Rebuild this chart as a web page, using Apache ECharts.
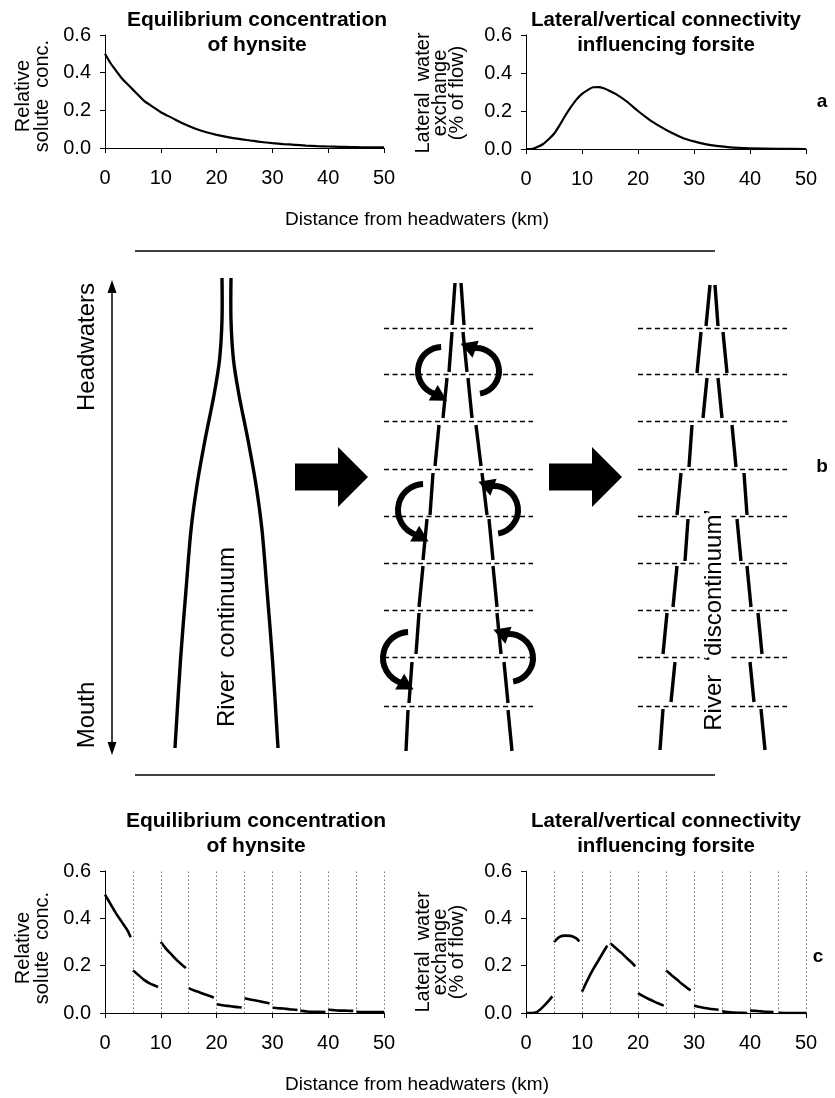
<!DOCTYPE html>
<html><head><meta charset="utf-8">
<script src="https://cdn.jsdelivr.net/npm/echarts@6/dist/echarts.min.js"></script>
<style>html,body{margin:0;padding:0;background:#fff}#c{width:835px;height:1098px}</style>
</head><body><div id="c"></div>
<script>
// ---------- data ----------
const hynsiteX = [0,1,2,3,4,5,6,7,8,9,10,12,14,16,18,20,22,24,26,28,30,32,34,36,38,40,42,44,46,48,50];
const hynsiteY = [0.50,0.45,0.41,0.37,0.34,0.31,0.28,0.25,0.23,0.21,0.19,0.16,0.13,0.105,0.085,0.07,0.058,0.048,0.04,0.032,0.026,0.021,0.017,0.013,0.01,0.008,0.006,0.005,0.004,0.003,0.003];
const forsiteX = [0,1,2,3,4,5,6,7,8,9,10,11,12,13,14,15,16,18,20,22,24,26,28,30,32,34,36,38,40,45,50];
const forsiteY = [0,0,0.01,0.025,0.05,0.08,0.125,0.175,0.22,0.26,0.29,0.31,0.325,0.326,0.318,0.305,0.29,0.25,0.2,0.155,0.118,0.085,0.058,0.04,0.026,0.016,0.01,0.006,0.004,0.001,0];
// discontinuum segments: [x, y] per 5-km reach
const hynsiteSegments = [
  [[0,0.50],[1,0.46],[2,0.42],[3,0.385],[4,0.35],[4.6,0.32]],
  [[5,0.18],[6,0.16],[7,0.14],[8,0.125],[9,0.115],[9.5,0.11]],
  [[10,0.30],[11,0.27],[12,0.245],[13,0.22],[14,0.2],[14.5,0.19]],
  [[15,0.105],[16,0.095],[17,0.087],[18,0.078],[19,0.07],[19.5,0.065]],
  [[20,0.037],[21,0.033],[22,0.03],[23,0.027],[24,0.024],[24.5,0.023]],
  [[25,0.062],[26,0.057],[27,0.053],[28,0.048],[29,0.043],[29.5,0.04]],
  [[30,0.022],[31,0.02],[32,0.019],[33,0.016],[34,0.014],[34.5,0.013]],
  [[35,0.01],[36,0.007],[37,0.005],[38,0.005],[39.5,0.004]],
  [[40,0.015],[41,0.012],[42,0.01],[43,0.01],[44,0.009],[44.5,0.009]],
  [[45,0.005],[46,0.004],[48,0.004],[50,0.004]]
];
const forsiteSegments = [
  [[0,0],[1,0],[2,0.005],[3,0.025],[4,0.05],[4.7,0.07]],
  [[5,0.30],[6,0.322],[7,0.327],[8,0.326],[9,0.315],[9.5,0.302]],
  [[10,0.09],[11,0.14],[12,0.185],[13,0.225],[14,0.265],[14.5,0.285]],
  [[15,0.295],[16,0.275],[17,0.255],[18,0.232],[19,0.21],[19.5,0.197]],
  [[20,0.084],[21,0.07],[22,0.058],[23,0.047],[24,0.037],[24.6,0.031]],
  [[25,0.18],[26,0.16],[27,0.14],[28,0.12],[29,0.102],[29.4,0.096]],
  [[30,0.032],[31,0.025],[32,0.021],[33,0.017],[34.4,0.014]],
  [[35,0.007],[36,0.004],[37,0.002],[38,0.001],[39.5,0]],
  [[40,0.01],[41,0.009],[42,0.007],[43,0.005],[44.2,0.004]],
  [[45,0.001],[47,0],[50,0]]
];
const breakpoints = [5,10,15,20,25,30,35,40,45,50];
const xTicks = [0,10,20,30,40,50];
const yTicks = [0,0.2,0.4,0.6];
const xTitle = 'Distance from headwaters (km)';
const leftTitle = 'Equilibrium concentration\nof hynsite';
const rightTitle = 'Lateral/vertical connectivity\ninfluencing forsite';
const leftYName = 'Relative\nsolute  conc.';
const rightYName = 'Lateral  water\nexchange\n(% of flow)';

// ---------- layout ----------
const FONT = '"Liberation Sans", Arial, sans-serif';
const grids = [
  {left:105, top:35, width:279, height:113},
  {left:526, top:35, width:280, height:114},
  {left:105, top:871, width:279, height:142},
  {left:526, top:871, width:280, height:142}
];
const zip = (xs, ys) => xs.map((x,i)=>[x, ys[i]]);

function xAxis(i){
  return {type:'value', gridIndex:i, min:xTicks[0], max:xTicks[xTicks.length-1], interval:xTicks[1]-xTicks[0],
    axisLine:{show:true, onZero:false, lineStyle:{color:'#000', width:1}},
    axisTick:{show:true, length:5, lineStyle:{color:'#000'}},
    splitLine:{show:false},
    axisLabel:{color:'#000', fontSize:20, fontFamily:FONT, margin:20}};
}
function yAxis(i){
  return {type:'value', gridIndex:i, min:yTicks[0], max:yTicks[yTicks.length-1], interval:yTicks[1]-yTicks[0],
    axisLine:{show:true, lineStyle:{color:'#000', width:1}},
    axisTick:{show:true, length:5, lineStyle:{color:'#000'}},
    splitLine:{show:false},
    axisLabel:{color:'#000', fontSize:20, fontFamily:FONT, margin:14, formatter:v=>v.toFixed(1)}};
}
const lineStyleTop = {color:'#000', width:2.2};
const lineStyleSeg = {color:'#000', width:2.6};
const dotted = {silent:true, symbol:['none','none'], label:{show:false},
  lineStyle:{type:[1.5,2.5], color:'#777', width:1},
  data: breakpoints.map(v=>({xAxis:v}))};

const series = [
  {type:'line', xAxisIndex:0, yAxisIndex:0, data:zip(hynsiteX,hynsiteY), showSymbol:false, smooth:0.3, lineStyle:lineStyleTop},
  {type:'line', xAxisIndex:1, yAxisIndex:1, data:zip(forsiteX,forsiteY), showSymbol:false, smooth:0.3, lineStyle:lineStyleTop}
];
hynsiteSegments.forEach((seg,k)=>{
  const s = {type:'line', xAxisIndex:2, yAxisIndex:2, data:seg, showSymbol:false, smooth:0.3, lineStyle:lineStyleSeg, z:3};
  if(k===0) s.markLine = dotted;
  series.push(s);
});
forsiteSegments.forEach((seg,k)=>{
  const s = {type:'line', xAxisIndex:3, yAxisIndex:3, data:seg, showSymbol:false, smooth:0.3, lineStyle:lineStyleSeg, z:3};
  if(k===0) s.markLine = dotted;
  series.push(s);
});

// ---------- diagram (panel b) and texts ----------
const G = [];
const K = '#000';
function line(x1,y1,x2,y2,w,dash){ G.push({type:'line', shape:{x1,y1,x2,y2}, style:{stroke:K, lineWidth:w, lineDash:dash||null}, silent:true}); }
function text(x,y,t,size,opt){
  opt = opt||{};
  const el = {type:'text', x, y, silent:true, style:{text:t, fill:K, font:(opt.bold?'bold ':'')+size+'px '+FONT, textAlign:'center', textVerticalAlign:'middle', lineHeight:opt.lh||Math.round(size*1.2), backgroundColor:opt.bg||null, padding:opt.pad||0}};
  if(opt.rot) el.rotation = opt.rot;
  G.push(el);
}
function poly(points){ G.push({type:'polygon', shape:{points}, style:{fill:K}, silent:true}); }

// separators
line(135,251,715,251,1.5);
line(135,775,715,775,1.5);
// headwaters/mouth double arrow
line(112,290,112,745,1.5);
poly([[112,280],[107.5,293],[116.5,293]]);
poly([[112,755],[107.5,742],[116.5,742]]);
text(87,347,'Headwaters',24,{rot:Math.PI/2});
text(87,715,'Mouth',24,{rot:Math.PI/2});
// river continuum banks
G.push({type:'polyline', shape:{points:[[222,278],[222,320],[219.5,360],[214,395],[205,440],[197,485],[191,530],[186,590],[180.5,660],[175,748]], smooth:0.3}, style:{stroke:K, lineWidth:3.4, fill:null}, silent:true});
G.push({type:'polyline', shape:{points:[[231,278],[231,320],[233.5,360],[239,395],[248,440],[256,485],[262,530],[267,590],[272.5,660],[278,748]], smooth:0.3}, style:{stroke:K, lineWidth:3.4, fill:null}, silent:true});
text(227,637,'River  continuum',24,{rot:Math.PI/2});
// big arrows
function bigArrow(x0, xb, xt, cy){ poly([[x0,cy-13.5],[xb,cy-13.5],[xb,cy-30],[xt,cy],[xb,cy+30],[xb,cy+13.5],[x0,cy+13.5]]); }
bigArrow(295,338,368,477);
bigArrow(549,592,622,477);
// dashed reach boundaries
const reachY = [328,374,421,469,516,563,610,657,706];
reachY.forEach(y=>{ line(384,y+0.5,533,y+0.5,1.4,[5,3.5]); line(638,y+0.5,787,y+0.5,1.4,[5,3.5]); });
// middle river banks (segments)
const midL = [[455,283,452,325],[452,332,449,372],[447,378,443,418],[439,425,435,466],[433,473,430,515],[427,519,423,560],[423,566,419,607],[419,613,416,654],[412,662,409,703],[408,710,406,751]];
const midR = [[461,283,464,325],[463,332,467,372],[468,378,472,418],[476,425,481,466],[482,473,487,515],[489,519,493,560],[493,566,497,607],[497,613,501,654],[504,662,508,703],[508,710,512,751]];
midL.concat(midR).forEach(s=>line(s[0],s[1],s[2],s[3],3.4));
// right river banks (discontinuum)
const rgtL = [[710,285,706,326],[701,332,697,373],[707,378,703,418],[692,425,689,467],[681,473,677,515],[688,519,685,561],[677,566,673,607],[667,613,663,654],[675,662,671,702],[663,709,660,750]];
const rgtR = [[715,285,718,326],[723,332,727,373],[718,378,722,418],[732,425,736,467],[744,473,747,515],[737,519,741,561],[747,566,751,607],[758,613,762,654],[750,662,754,702],[761,709,765,750]];
rgtL.concat(rgtR).forEach(s=>line(s[0],s[1],s[2],s[3],3.4));
text(714,620,'River  \u2018discontinuum\u2019',24,{rot:Math.PI/2, bg:'#fff', pad:[0,3,0,3]});
// curved exchange arrows
function curved(cx,cy,r,a0,a1,headDir){
  const d2r = Math.PI/180;
  G.push({type:'arc', shape:{cx,cy,r,startAngle:a0*d2r,endAngle:a1*d2r,clockwise:true}, style:{stroke:K, lineWidth:6, fill:null}, silent:true});
  const bx = cx + r*Math.cos(a0*d2r), by = cy + r*Math.sin(a0*d2r);
  const dx = Math.cos(headDir*d2r), dy = Math.sin(headDir*d2r);
  const nx = -dy, ny = dx;
  const L = 16, W = 9;
  const b0x = bx - 3*dx, b0y = by - 3*dy;
  poly([[b0x+L*dx, b0y+L*dy],[b0x+W*nx, b0y+W*ny],[b0x-W*nx, b0y-W*ny]]);
}
curved(442,371,24,105,268,30);
curved(476,371,23,-98,80,200);
curved(424,510,26,105,268,30);
curved(494,510,24,-98,80,200);
curved(409,658,26,105,268,30);
curved(509,658,24,-98,80,200);

// titles, axis names, panel letters, shared x titles
function title2(cx, y1, str, size){ const p = str.split('\n'); text(cx,y1,p[0],size,{bold:true}); text(cx,y1+25.5,p[1],size,{bold:true}); }
title2(257,20,leftTitle,21);
title2(666,20,rightTitle,20.5);
title2(256,821,leftTitle,21);
title2(666,821,rightTitle,20.5);
text(33,96,leftYName,20,{rot:Math.PI/2, lh:18.5});
text(440,93,rightYName,20,{rot:Math.PI/2, lh:17});
text(33,948,leftYName,20,{rot:Math.PI/2, lh:18.5});
text(440,952,rightYName,20,{rot:Math.PI/2, lh:17});
text(822,102,'a',19,{bold:true});
text(822,467,'b',19,{bold:true});
text(818,957,'c',19,{bold:true});
text(417,220,xTitle,19);
text(417,1085,xTitle,19);

const option = {
  animation:false,
  backgroundColor:'#fff',
  grid: grids,
  xAxis:[xAxis(0),xAxis(1),xAxis(2),xAxis(3)],
  yAxis:[yAxis(0),yAxis(1),yAxis(2),yAxis(3)],
  series: series,
  graphic: G
};
const chart = echarts.init(document.getElementById('c'), null, {renderer:'canvas'});
chart.setOption(option);
</script></body></html>
